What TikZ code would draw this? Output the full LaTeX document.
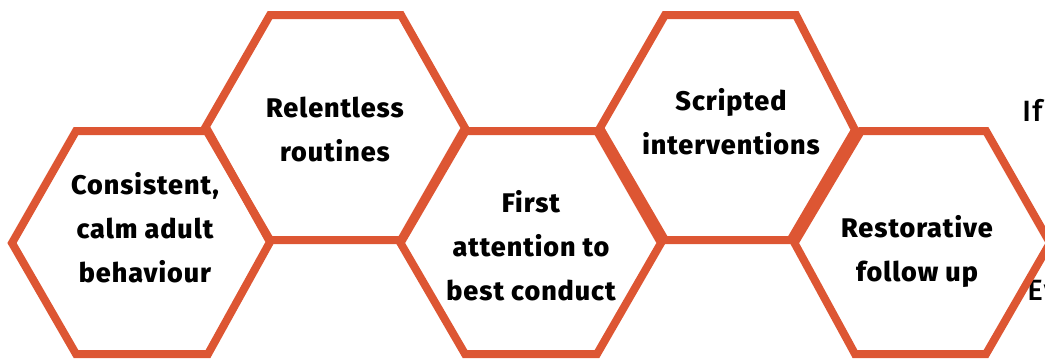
\documentclass[tikz,border=0pt]{standalone}
\usepackage{fontspec}
\setmainfont{Fira Sans}[UprightFont=*-ExtraBold,LetterSpace=3.6]
\newfontfamily\plainhand{Fira Sans}[UprightFont=*-Medium,LetterSpace=5.0]
\definecolor{hexorange}{HTML}{DD5633}
\tikzset{
  x=0.75pt,y=-0.75pt,
  hexline/.style={draw=hexorange,line width=6pt,line join=miter},
  hexlabel/.style={align=center,font=\fontsize{20.2}{33}\selectfont,text=black,inner sep=0pt},
  cutlabel/.style={anchor=west,font=\plainhand\fontsize{22}{24}\selectfont,text=black,inner sep=0pt},
}
\begin{document}
\begin{tikzpicture}
\useasboundingbox (0,0) rectangle (1045,358);
\clip (0,0) rectangle (1045,358);
\node[cutlabel] (ifword) at (1022,110) {If};
\node[cutlabel] (evword) at (1027,290) {Ev};
\draw[hexline] (76,131) -- (208,131) -- (270,242) -- (208,354) -- (76,354) -- (12,243) -- cycle;
\draw[hexline] (270,15) -- (401,15) -- (465,128) -- (401,240) -- (270,240) -- (205,128) -- cycle;
\draw[hexline] (465.7,131) -- (597,131) -- (661,243) -- (597,354) -- (465,354) -- (400.5,243) -- cycle;
\draw[hexline] (665,15) -- (796,15) -- (855,130) -- (790.5,240) -- (665,240) -- (600,128) -- cycle;
\draw[hexline] (861,131) -- (986,131) -- (1050,243) -- (986,354) -- (855,354) -- (794.5,243) -- cycle;
\node[hexlabel] (consistent) at (145,228) {Consistent,\\calm adult\\behaviour};
\node[hexlabel] (routines) at (335,129) {Relentless\\routines};
\node[hexlabel] (attention) at (531,246) {First\\attention to\\best conduct};
\node[hexlabel] (scripted) at (731,122) {Scripted\\interventions};
\node[hexlabel] (restorative) at (917,251.5) {Restorative\\follow up};
\end{tikzpicture}
\end{document}
